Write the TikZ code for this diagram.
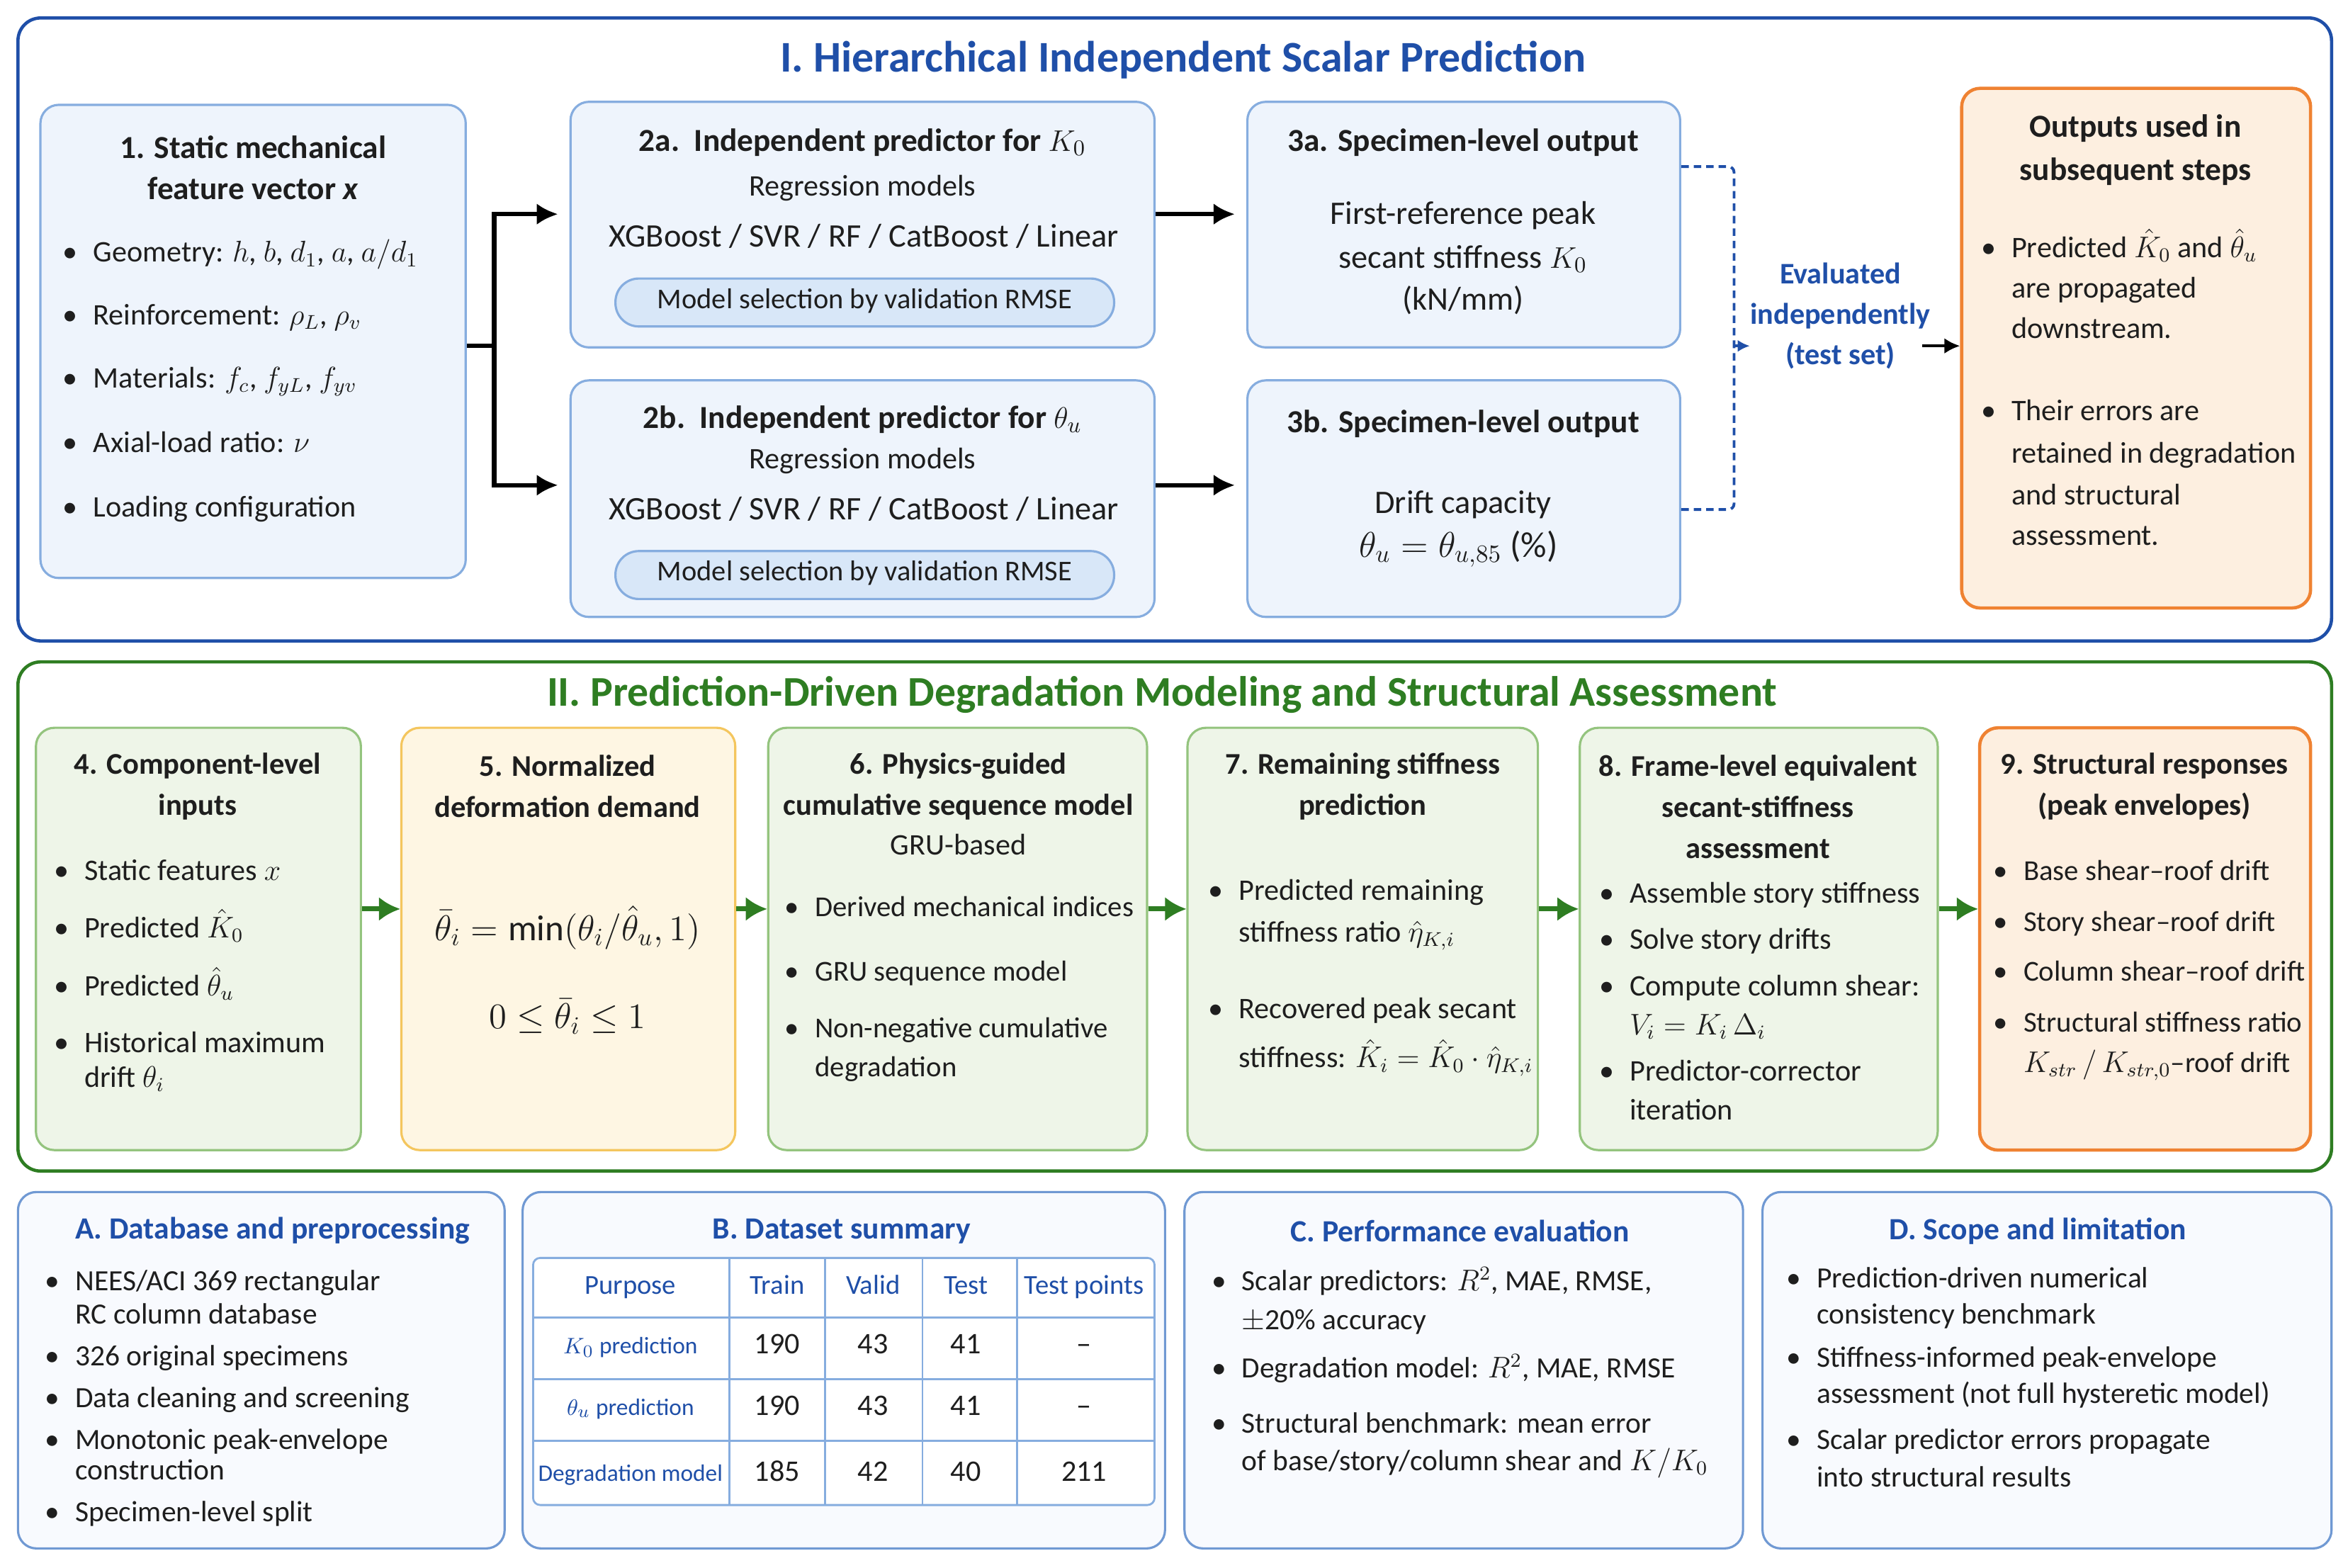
\documentclass[tikz,border=0pt]{standalone}
\usepackage{amsmath,amssymb}
\usepackage{fontspec}
\setmainfont{Carlito}
\usetikzlibrary{arrows.meta,calc,fit,positioning}

\definecolor{iblue}{HTML}{1F4FA8}
\definecolor{iigreen}{HTML}{2E7D22}
\definecolor{boxblue}{HTML}{EEF4FC}
\definecolor{lineblue}{HTML}{86ADDF}
\definecolor{pillblue}{HTML}{D8E7F8}
\definecolor{boxgreen}{HTML}{EEF5E8}
\definecolor{linegreen}{HTML}{94C47E}
\definecolor{boxyellow}{HTML}{FEF6E3}
\definecolor{lineyellow}{HTML}{F4C65E}
\definecolor{boxorange}{HTML}{FDEFE0}
\definecolor{lineorange}{HTML}{EF8232}
\definecolor{boxpale}{HTML}{F8FAFE}
\definecolor{linepale}{HTML}{7099D3}
\definecolor{inktext}{HTML}{1E1E1E}

\newcommand{\ftitle}{\fontsize{17.6}{20}\selectfont\bfseries}
\newcommand{\fhead}{\fontsize{12.9}{16.5}\selectfont\bfseries}
\newcommand{\fheadii}{\fontsize{12.1}{16.5}\selectfont\bfseries}
\newcommand{\fbody}{\fontsize{12}{14.5}\selectfont}
\newcommand{\fbodyn}{\fontsize{11.6}{14}\selectfont}
\newcommand{\fbig}{\fontsize{13.2}{15.5}\selectfont}
\newcommand{\fpill}{\fontsize{11.5}{13.5}\selectfont}
\newcommand{\fsmall}{\fontsize{11.8}{13.5}\selectfont}
\newcommand{\fthead}{\fontsize{11}{13}\selectfont}
\newcommand{\fbtitle}{\fontsize{12.4}{14}\selectfont\bfseries}
\newcommand{\ftiny}{\fontsize{9.5}{11}\selectfont}
\newcommand{\fmath}{\fontsize{14.5}{17}\selectfont}

% bullet line and continuation line: [style]{name}{x}{y}{text}
\newcommand{\bl}[5][ln]{%
  \node[#1,anchor=mid] (#2-dot) at (#3-15,#4) {\textbullet};
  \node[#1] (#2) at (#3,#4) {#5};}
\newcommand{\cl}[5][ln]{%
  \node[#1] (#2) at (#3,#4) {#5};}

\tikzset{
  card/.style={rectangle,rounded corners=2.6mm,inner sep=0pt,line width=0.9pt},
  bluecard/.style={card,draw=lineblue,fill=boxblue},
  greencard/.style={card,draw=linegreen,fill=boxgreen},
  yellowcard/.style={card,draw=lineyellow,fill=boxyellow},
  orangecard/.style={card,draw=lineorange,fill=boxorange,line width=1.3pt},
  palecard/.style={card,draw=linepale,fill=boxpale},
  pill/.style={card,rounded corners=3.3mm,draw=lineblue,fill=pillblue},
  panelI/.style={card,rounded corners=3.2mm,draw=iblue,line width=1.3pt},
  panelII/.style={card,rounded corners=3.2mm,draw=iigreen,line width=1.3pt},
  ptitle/.style={inner sep=0pt,font=\ftitle},
  hd/.style={inner sep=0pt,align=center,font=\fhead,text=inktext},
  hdii/.style={hd,font=\fheadii},
  ct/.style={inner sep=0pt,anchor=mid,font=\fbody,text=inktext},
  ln/.style={inner sep=0pt,anchor=mid west,font=\fbody,text=inktext},
  lnn/.style={ln,font=\fbodyn},
  lns/.style={inner sep=0pt,anchor=mid west,font=\fsmall,text=inktext},
  evtxt/.style={inner sep=0pt,align=center,font=\fontsize{12}{16.2}\selectfont\bfseries,text=iblue},
  btitle/.style={inner sep=0pt,font=\fbtitle,text=iblue},
  thead/.style={inner sep=0pt,anchor=mid,font=\fthead,text=iblue},
  tlab/.style={inner sep=0pt,anchor=mid,font=\ftiny,text=iblue},
  tnum/.style={inner sep=0pt,anchor=mid,font=\fbody,text=inktext},
  tabline/.style={draw=lineblue,line width=0.8pt},
  karrow/.style={-{Latex[length=3mm,width=3mm]},line width=1.8pt,black,shorten >=1.6mm},
  garrow/.style={-{Latex[length=3mm,width=3.4mm]},line width=2pt,draw=iigreen},
  dashline/.style={draw=iblue,line width=1.1pt,dash pattern=on 3pt off 2pt,rounded corners=0.8mm},
}

\begin{document}
\begin{tikzpicture}[x=0.21135mm,y=-0.21135mm,>=Latex]
  % Page
  \useasboundingbox (0,0) rectangle (1568,1047);
  \fill[white] (0,0) rectangle (1568,1047);
  %
  % Panel I
  \node[panelI,fit={(12,12) (1557,428)}] (pI) {};
  \node[ptitle,text=iblue] (tI) at (790,40) {I. Hierarchical Independent Scalar Prediction};
  %
  % 1. Static features
  \node[bluecard,fit={(27,70) (311,386)}] (s1) {};
  \node[hd] (h1) at (169,112) {1. Static mechanical\\feature vector \textit{x}};
  \bl{g1}{62}{171}{Geometry: $h$, $b$, $d_1$, $a$, $a/d_1$}
  \bl{g2}{62}{213}{Reinforcement: $\rho_L$, $\rho_v$}
  \bl{g3}{62}{255}{Materials: $f_c$, $f_{yL}$, $f_{yv}$}
  \bl{g4}{62}{298}{Axial-load ratio: $\nu$}
  \bl{g5}{62}{341}{Loading configuration}
  %
  % 2a / 2b. Predictors
  \node[bluecard,fit={(381,68) (771,232)}] (p2a) {};
  \node[hd] (h2a) at (576,95) {2a.\ \ Independent predictor for $K_0$};
  \node[ct] (r2a) at (576,127) {Regression models};
  \node[ct,font=\fbig] (x2a) at (577,161) {XGBoost / SVR / RF / CatBoost / Linear};
  \node[pill,fit={(411,186) (744,218)}] (m2a) {};
  \node[ct,font=\fpill] (m2at) at (m2a.center) {Model selection by validation RMSE};
  \node[bluecard,fit={(381,254) (771,412)}] (p2b) {};
  \node[hd] (h2b) at (576,280) {2b.\ \ Independent predictor for $\theta_u$};
  \node[ct] (r2b) at (576,309) {Regression models};
  \node[ct,font=\fbig] (x2b) at (577,343) {XGBoost / SVR / RF / CatBoost / Linear};
  \node[pill,fit={(411,368) (744,400)}] (m2b) {};
  \node[ct,font=\fpill] (m2bt) at (m2b.center) {Model selection by validation RMSE};
  %
  % 3a / 3b. Specimen-level outputs
  \node[bluecard,fit={(833,68) (1122,232)}] (o3a) {};
  \node[hd] (h3a) at (977,95) {3a. Specimen-level output};
  \node[ct,font=\fbig] (t3a1) at (977,146) {First-reference peak};
  \node[ct,font=\fbig] (t3a2) at (977,175) {secant stiffness $K_0$};
  \node[ct,font=\fbig] (t3a3) at (977,203) {(kN/mm)};
  \node[bluecard,fit={(833,254) (1122,412)}] (o3b) {};
  \node[hd] (h3b) at (977,283) {3b. Specimen-level output};
  \node[ct,font=\fbig] (t3b1) at (977,339) {Drift capacity};
  \node[ct,font=\fontsize{14.5}{17}\selectfont] (t3b2) at (974,368) {$\theta_u = \theta_{u,85}$ (\%)};
  %
  % Outputs used downstream
  \node[orangecard,fit={(1310,59) (1543,406)}] (out) {};
  \node[hd,font=\fontsize{12.9}{17.4}\selectfont\bfseries] (hout) at (1426,100) {Outputs used in\\subsequent steps};
  \bl{u1}{1343}{168}{Predicted $\hat{K}_0$ and $\hat{\theta}_u$}
  \cl{u2}{1343}{195}{are propagated}
  \cl{u3}{1343}{222}{downstream.}
  \bl{u4}{1343}{277}{Their errors are}
  \cl{u5}{1343}{305}{retained in degradation}
  \cl{u6}{1343}{333}{and structural}
  \cl{u7}{1343}{360}{assessment.}
  %
  % Evaluation note
  \node[evtxt] (evl) at (1229,211) {Evaluated\\independently\\(test set)};
  %
  % Connectors, panel I
  \coordinate (split) at (330,231);
  \coordinate (brk) at (1158,231);
  \draw[line width=1.8pt] (s1.east |- split) -- (split);
  \draw[karrow] (split) |- ($(p2a.west)+(0,-7)$);
  \draw[karrow] (split) |- ($(p2b.west)+(0,-9)$);
  \draw[karrow] ($(p2a.east)+(0,-7)$) -- ($(o3a.west)+(0,-7)$);
  \draw[karrow] ($(p2b.east)+(0,-9)$) -- ($(o3b.west)+(0,-9)$);
  \draw[dashline] ($(o3a.north east)+(0,44)$) -| (brk);
  \draw[dashline] ($(o3b.north east)+(0,87)$) -| (brk);
  \draw[dashline,-{Latex[length=1.7mm,width=1.7mm]}] (brk) -- (brk -| evl.west);
  \draw[-{Latex[length=2.2mm,width=2.2mm]},line width=1.2pt,shorten <=-1.2mm]
    (evl.east |- brk) -- (out.west |- brk);
  %
  % Panel II
  \node[panelII,fit={(12,442) (1557,782)}] (pII) {};
  \node[ptitle,text=iigreen,font=\fontsize{17}{20}\selectfont\bfseries] (tII) at (776,464) {II. Prediction-Driven Degradation Modeling and Structural Assessment};
  %
  % 4. Component-level inputs
  \node[greencard,fit={(24,486) (241,768)}] (b4) {};
  \node[hdii] (h4) at (132,525) {4. Component-level\\inputs};
  \bl{c1}{56}{584}{Static features $x$}
  \bl{c2}{56}{622}{Predicted $\hat{K}_0$}
  \bl{c3}{56}{661}{Predicted $\hat{\theta}_u$}
  \bl{c4}{56}{699}{Historical maximum}
  \cl{c5}{56}{722}{drift $\theta_i$}
  %
  % 5. Normalized demand
  \node[yellowcard,fit={(268,486) (491,768)}] (b5) {};
  \node[hdii] (h5) at (379,525) {5. Normalized\\deformation demand};
  \node[ct,font=\fmath] (e5a) at (379,624) {$\bar{\theta}_i = \min(\theta_i/\hat{\theta}_u, 1)$};
  \node[ct,font=\fmath] (e5b) at (379,683) {$0 \le \bar{\theta}_i \le 1$};
  %
  % 6. Sequence model
  \node[greencard,fit={(513,486) (766,768)}] (b6) {};
  \node[hdii] (h6) at (640,525) {6. Physics-guided\\cumulative sequence model};
  \node[ct] (r6) at (640,567) {GRU-based};
  \bl[lnn]{d1}{544}{608}{Derived mechanical indices}
  \bl[lnn]{d2}{544}{651}{GRU sequence model}
  \bl[lnn]{d3}{544}{689}{Non-negative cumulative}
  \cl[lnn]{d4}{544}{715}{degradation}
  %
  % 7. Remaining stiffness
  \node[greencard,fit={(793,486) (1027,768)}] (b7) {};
  \node[hdii] (h7) at (910,525) {7. Remaining stiffness\\prediction};
  \bl{e1}{827}{597}{Predicted remaining}
  \cl{e2}{827}{625}{stiffness ratio $\hat{\eta}_{K,i}$}
  \bl{e3}{827}{676}{Recovered peak secant}
  \cl{e4}{827}{709}{stiffness: $\hat{K}_i = \hat{K}_0 \cdot \hat{\eta}_{K,i}$}
  %
  % 8. Frame-level assessment
  \node[greencard,fit={(1055,486) (1294,768)}] (b8) {};
  \node[hdii] (h8) at (1174,539) {8. Frame-level equivalent\\secant-stiffness\\assessment};
  \bl{f1}{1088}{599}{Assemble story stiffness}
  \bl{f2}{1088}{630}{Solve story drifts}
  \bl{f3}{1088}{661}{Compute column shear:}
  \cl{f4}{1088}{687}{$V_i = K_i\,\Delta_i$}
  \bl{f5}{1088}{718}{Predictor-corrector}
  \cl{f6}{1088}{744}{iteration}
  %
  % 9. Structural responses
  \node[orangecard,fit={(1322,486) (1543,768)}] (b9) {};
  \node[hdii] (h9) at (1432,525) {9. Structural responses\\(peak envelopes)};
  \bl[lnn]{q1}{1351}{584}{Base shear--roof drift}
  \bl[lnn]{q2}{1351}{618}{Story shear--roof drift}
  \bl[lnn]{q3}{1351}{651}{Column shear--roof drift}
  \bl[lnn]{q4}{1351}{685}{Structural stiffness ratio}
  \cl[lnn]{q5}{1351}{712}{$K_{str}\,/\,K_{str,0}$--roof drift}
  %
  % Connectors, panel II
  \foreach \a/\b in {b4/b5,b5/b6,b6/b7,b7/b8,b8/b9}
    \draw[garrow] ($(\a.east)+(0,-20)$) -- ($(\b.west)+(0,-20)$);
  %
  % A. Database
  \node[palecard,fit={(12,796) (337,1034)}] (bA) {};
  \node[btitle] (hA) at (182,822) {A. Database and preprocessing};
  \bl[lns]{a1}{50}{858}{NEES/ACI 369 rectangular}
  \cl[lns]{a2}{50}{880}{RC column database}
  \bl[lns]{a3}{50}{908}{326 original specimens}
  \bl[lns]{a4}{50}{936}{Data cleaning and screening}
  \bl[lns]{a5}{50}{964}{Monotonic peak-envelope}
  \cl[lns]{a6}{50}{984}{construction}
  \bl[lns]{a7}{50}{1012}{Specimen-level split}
  %
  % B. Dataset summary
  \node[palecard,fit={(349,796) (778,1034)}] (bB) {};
  \node[btitle] (hB) at (562,822) {B. Dataset summary};
  \draw[tabline,fill=white,rounded corners=1mm] (356,840) rectangle (771,1005);
  \foreach \x in {487,551,616,679} \draw[tabline] (\x,840) -- (\x,1005);
  \foreach \y in {880,921,962} \draw[tabline] (356,\y) -- (771,\y);
  \foreach \x/\t in {421/Purpose,519/Train,583/Valid,645/Test,724/Test points}
    \node[thead] (th\x) at (\x,860) {\t};
  \node[tlab] (tr1) at (421,900) {$K_0$ prediction};
  \node[tlab] (tr2) at (421,941) {$\theta_u$ prediction};
  \node[tlab] (tr3) at (421,985) {Degradation model};
  \foreach \y/\p/\q/\r/\s in {900/190/43/41/--,941/190/43/41/--,985/185/42/40/211} {
    \node[tnum] (n\y a) at (519,\y) {\p};
    \node[tnum] (n\y b) at (583,\y) {\q};
    \node[tnum] (n\y c) at (645,\y) {\r};
    \node[tnum] (n\y d) at (724,\y) {\s};
  }
  %
  % C. Performance evaluation
  \node[palecard,fit={(791,796) (1164,1034)}] (bC) {};
  \node[btitle] (hC) at (975,822) {C. Performance evaluation};
  \bl[lns]{k1}{829}{858}{Scalar predictors: $R^2$, MAE, RMSE,}
  \cl[lns]{k2}{829}{884}{$\pm$20\% accuracy}
  \bl[lns]{k3}{829}{916}{Degradation model: $R^2$, MAE, RMSE}
  \bl[lns]{k4}{829}{953}{Structural benchmark: mean error}
  \cl[lns]{k5}{829}{978}{of base/story/column shear and $K/K_0$}
  %
  % D. Scope and limitation
  \node[palecard,fit={(1177,796) (1557,1034)}] (bD) {};
  \node[btitle] (hD) at (1361,822) {D. Scope and limitation};
  \bl[lns]{l1}{1213}{856}{Prediction-driven numerical}
  \cl[lns]{l2}{1213}{880}{consistency benchmark}
  \bl[lns]{l3}{1213}{909}{Stiffness-informed peak-envelope}
  \cl[lns]{l4}{1213}{933}{assessment (not full hysteretic model)}
  \bl[lns]{l5}{1213}{964}{Scalar predictor errors propagate}
  \cl[lns]{l6}{1213}{989}{into structural results}
  %
\end{tikzpicture}
\end{document}
